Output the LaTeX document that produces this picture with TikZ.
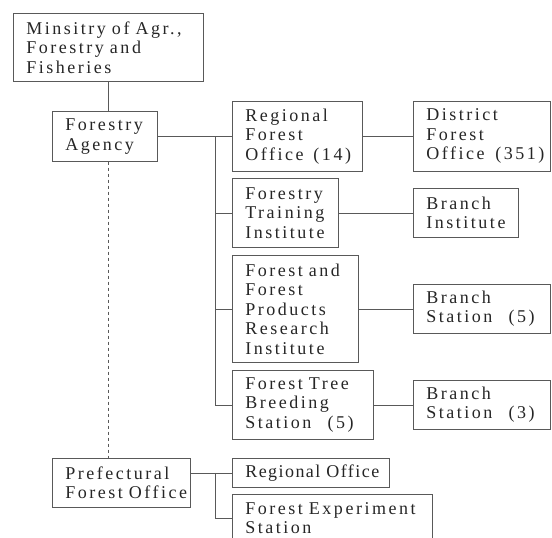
\documentclass[tikz,border=0pt]{standalone}
\usepackage{fontspec}
\setmainfont[LetterSpace=14,WordSpace=1.8]{Liberation Serif}
\hyphenpenalty=10000

\tikzset{
	orgbox/.style 2 args={draw=black!65, line width=0.7pt, anchor=north west,
		text width=#1, minimum height=#2, align=left, inner xsep=13pt,
		inner ysep=0pt, text=black!85, font=\fontsize{18}{19.5}\selectfont},
	link/.style={draw=black!65, line width=0.7pt}
}

\begin{document}
\begin{tikzpicture}[x=1pt,y=-1pt]
	\clip (0,0) rectangle (552,538);
	\fill[white] (0,0) rectangle (552,538);
	% left column
	\node[orgbox={164pt}{68pt}] (ministry) at (13,13) {Minsitry~of~Agr.,\\Forestry~and\\Fisheries};
	\node[orgbox={79pt}{50pt}] (agency) at (52,111) {Forestry\\Agency};
	\node[orgbox={112pt}{49pt}] (prefectural) at (52,458) {Prefectural\\Forest~Office};
	% national organs
	\node[orgbox={104pt}{70pt}] (regional) at (232,101) {Regional\\Forest\\Office\kern0.55em(14)};
	\node[orgbox={80pt}{69pt}] (training) at (232,178) {Forestry\\Training\\Institute};
	\node[orgbox={100pt}{107pt}] (research) at (232,255) {Forest~and\\Forest\\Products\\Research\\Institute};
	\node[orgbox={115pt}{69pt}] (breeding) at (232,370) {Forest~Tree\\Breeding\\Station\kern0.9em(5)};
	% branches
	\node[orgbox={111pt}{70pt}] (district) at (413,101) {District\\Forest\\Office\kern0.6em(351)};
	\node[orgbox={79pt}{49pt}] (branchinst) at (413,188) {Branch\\Institute};
	\node[orgbox={111pt}{49pt}] (branchfive) at (413,284) {Branch\\Station\kern0.9em(5)};
	\node[orgbox={111pt}{49pt}] (branchthree) at (413,380) {Branch\\Station\kern0.9em(3)};
	% prefectural organs
	\node[orgbox={131pt}{29pt}] (regoffice) at (232,458) {\addfontfeature{LetterSpace=8}Regional~Office};
	\node[orgbox={174pt}{48pt}] (experiment) at (232,494) {Forest~Experiment\\Station};
	% connectors
	\coordinate (trunk) at (215,0);
	\draw[link] (ministry.south) -- (ministry.south |- agency.north);
	\draw[link, dashed] (ministry.south |- agency.south) -- (ministry.south |- prefectural.north);
	\draw[link] (agency.east) -- (regional.west);
	\draw[link] (agency.east -| trunk) |- (breeding.west);
	\foreach \n in {training,research}
		\draw[link] (trunk |- \n.west) -- (\n.west);
	\foreach \a/\b in {regional/district,training/branchinst,research/branchfive,breeding/branchthree}
		\draw[link] (\a.east) -- (\b.west);
	\draw[link] (regoffice.west -| prefectural.east) -- (regoffice.west);
	\draw[link] (trunk |- regoffice.west) |- (experiment.west);
\end{tikzpicture}
\end{document}
